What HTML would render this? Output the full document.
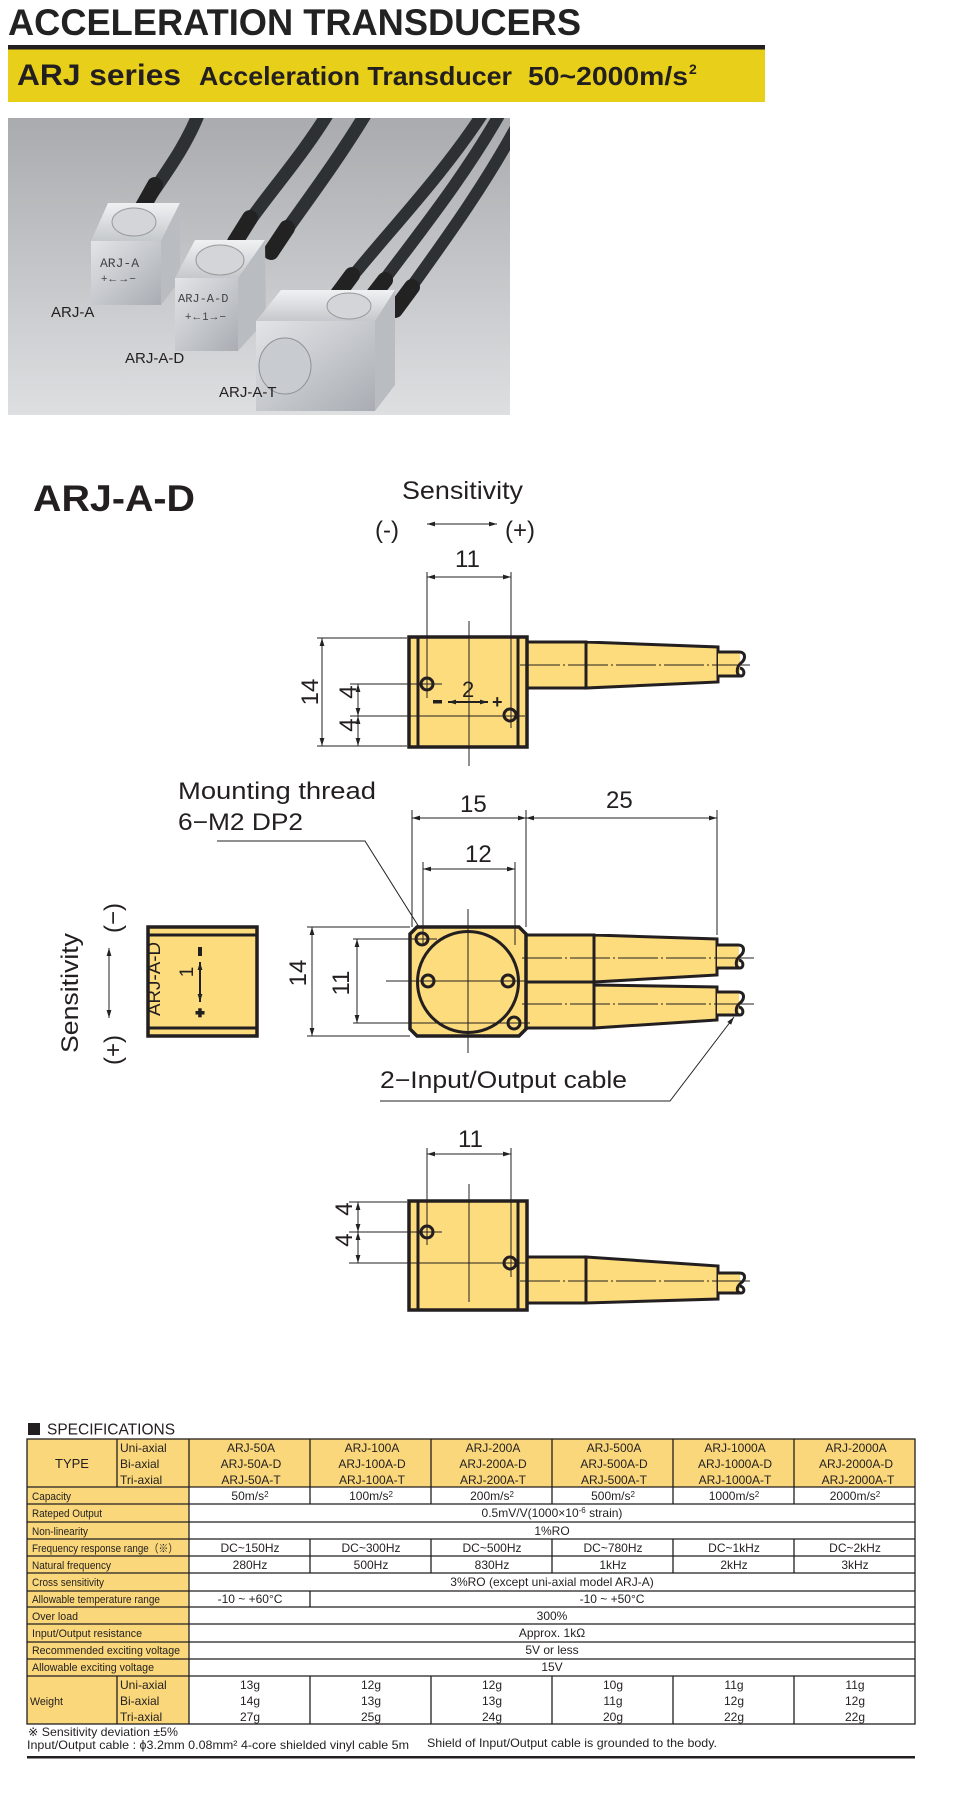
<!DOCTYPE html>
<html><head><meta charset="utf-8"><style>
html,body{margin:0;padding:0;background:#fff;}
svg{display:block;font-family:"Liberation Sans",sans-serif;}
</style></head><body>
<svg width="958" height="1810" viewBox="0 0 958 1810" xmlns="http://www.w3.org/2000/svg">
<defs>
<marker id="a" viewBox="0 0 10 6" refX="10" refY="3" markerWidth="8" markerHeight="4.8" markerUnits="userSpaceOnUse" orient="auto-start-reverse"><path d="M0,0 L10,3 L0,6 z" fill="#222"/></marker>
<linearGradient id="bg" x1="0" y1="0" x2="0" y2="1"><stop offset="0" stop-color="#a9abae"/><stop offset="1" stop-color="#dedfe1"/></linearGradient>
<linearGradient id="met" x1="0" y1="0" x2="1" y2="1"><stop offset="0" stop-color="#e2e4e7"/><stop offset="1" stop-color="#a9adb3"/></linearGradient>
<linearGradient id="met2" x1="0" y1="0" x2="0" y2="1"><stop offset="0" stop-color="#f0f1f3"/><stop offset="1" stop-color="#c5c8cc"/></linearGradient>
<clipPath id="pc"><rect x="8" y="118" width="502" height="297"/></clipPath>
</defs>

<!-- Title -->
<text x="8" y="35" font-size="37" font-weight="bold" fill="#222" textLength="573" lengthAdjust="spacingAndGlyphs">ACCELERATION TRANSDUCERS</text>
<rect x="8" y="45" width="757" height="4.5" fill="#231f20"/>
<rect x="8" y="49.5" width="757" height="52.5" fill="#e8cf1a"/>
<text x="17" y="85" font-size="30" font-weight="bold" fill="#231f20" textLength="164" lengthAdjust="spacingAndGlyphs">ARJ series</text>
<text x="199" y="85" font-size="26" font-weight="bold" fill="#231f20" textLength="313" lengthAdjust="spacingAndGlyphs">Acceleration Transducer</text>
<text x="528" y="85" font-size="26" font-weight="bold" fill="#231f20" textLength="160" lengthAdjust="spacingAndGlyphs">50~2000m/s</text>
<text x="689" y="74" font-size="14" font-weight="bold" fill="#231f20">2</text>

<!-- Photo -->
<g clip-path="url(#pc)">
<rect x="8" y="118" width="502" height="297" fill="url(#bg)"/>
<g stroke="#2e3133" stroke-linecap="round" fill="none">
<path d="M200,110 C185,150 160,180 141,210" stroke-width="13"/>
<path d="M330,110 C300,160 262,200 235,242" stroke-width="13"/>
<path d="M368,110 C335,165 300,210 271,252" stroke-width="13"/>
<path d="M485,110 C440,180 380,240 335,298" stroke-width="12"/>
<path d="M502,110 C460,185 405,250 368,302" stroke-width="12"/>
<path d="M520,120 C480,195 430,260 395,310" stroke-width="12"/>
</g>
<g stroke="#222" stroke-width="16" stroke-linecap="round"><path d="M155,185 L141,210"/><path d="M250,218 L235,242"/><path d="M287,228 L271,252"/><path d="M352,275 L335,298"/><path d="M385,280 L368,302"/><path d="M412,287 L395,310"/></g>
<!-- Cube A -->
<polygon points="91,241 108,203 180,203 161,241" fill="url(#met2)"/>
<polygon points="161,241 180,203 180,280 161,305" fill="#b9bcc0"/>
<rect x="91" y="241" width="70" height="64" fill="url(#met)"/>
<ellipse cx="134" cy="222" rx="22" ry="14" fill="#d3d5d8" stroke="#999" stroke-width="1"/>
<text x="100" y="267" font-size="13" fill="#444" font-family="Liberation Mono,monospace">ARJ-A</text>
<text x="101" y="282" font-size="11" fill="#444">+←→−</text>
<!-- Cube D -->
<polygon points="175,278 195,240 265,240 238,278" fill="url(#met2)"/>
<polygon points="238,278 265,240 266,320 238,351" fill="#b9bcc0"/>
<rect x="175" y="278" width="63" height="73" fill="url(#met)"/>
<ellipse cx="220" cy="260" rx="24" ry="15" fill="#d3d5d8" stroke="#999" stroke-width="1"/>
<text x="178" y="302" font-size="12" fill="#444" font-family="Liberation Mono,monospace">ARJ-A-D</text>
<text x="185" y="320" font-size="11" fill="#444">+←1→−</text>
<!-- Cube T -->
<polygon points="256,321 281,290 395,290 375,321" fill="url(#met2)"/>
<polygon points="375,321 395,290 395,385 375,411" fill="#b9bcc0"/>
<rect x="256" y="321" width="119" height="90" fill="url(#met)"/>
<ellipse cx="349" cy="306" rx="22" ry="13" fill="#d3d5d8" stroke="#999" stroke-width="1"/>
<ellipse cx="285" cy="366" rx="26" ry="28" fill="#c8cbcf" stroke="#8e9296" stroke-width="1"/>
<text x="51" y="317" font-size="15" fill="#231f20">ARJ-A</text>
<text x="125" y="363" font-size="15" fill="#231f20">ARJ-A-D</text>
<text x="219" y="397" font-size="15" fill="#231f20">ARJ-A-T</text>
</g>

<!-- ARJ-A-D heading -->
<text x="33" y="511" font-size="37" font-weight="bold" fill="#231f20" textLength="162" lengthAdjust="spacingAndGlyphs">ARJ-A-D</text>

<!-- Sensitivity top -->
<text x="402" y="499" font-size="25" fill="#231f20" textLength="121" lengthAdjust="spacingAndGlyphs">Sensitivity</text>
<text x="375" y="538" font-size="24" fill="#231f20">(-)</text>
<text x="505" y="538" font-size="24" fill="#231f20">(+)</text>
<line x1="427" y1="524" x2="497" y2="524" stroke="#222" stroke-width="1" marker-start="url(#a)" marker-end="url(#a)"/>

<g fill="#fddc7e" stroke="#231f20">
<path d="M527,642 H586 V688 H527 Z M586,642 L718,647 V682 L586,688 Z" stroke-width="3"/>
<rect x="718" y="652" width="22" height="24" stroke="none"/>
<rect x="409" y="637" width="118" height="110" stroke-width="3.5"/>
<path d="M526,935 H594 V982 H526 Z M594,935 L717,939 V975 L594,982 Z" stroke-width="3"/>
<path d="M526,982 H594 V1028 H526 Z M594,985 L717,987 V1020 L594,1028 Z" stroke-width="3"/>
<rect x="717" y="945" width="22" height="23" stroke="none"/>
<rect x="717" y="992" width="22" height="23" stroke="none"/>
<path d="M417,927 H519 L526,934 V1029 L519,1036 H417 L410,1029 V934 Z" stroke-width="3.5"/>
<rect x="148" y="927" width="109" height="109" stroke-width="3.5"/>
<path d="M527,1257 H586 V1303 H527 Z M586,1257 L718,1266 V1299 L586,1303 Z" stroke-width="3"/>
<rect x="718" y="1273" width="22" height="20" stroke="none"/>
<rect x="409" y="1201" width="118" height="109" stroke-width="3.5"/>
</g>

<g fill="none" stroke="#231f20" stroke-width="3">
<line x1="418" y1="637" x2="418" y2="747"/><line x1="518" y1="637" x2="518" y2="747"/>
<circle cx="427" cy="684" r="6"/><circle cx="510" cy="715" r="6"/>
<path d="M718,652 H739 C746,652 746,659 741,663 C736,667 736,676 741,676 C745,676 745,669 740,668 M718,676 H741"/>
<circle cx="468" cy="982" r="50.5"/>
<circle cx="422" cy="939" r="6"/><circle cx="428" cy="981" r="6"/><circle cx="508" cy="981" r="6"/><circle cx="514" cy="1023" r="6"/>
<path d="M717,945 H738 C745,945 745,952 740,956 C735,960 735,968 740,968 C744,968 744,961 739,960 M717,968 H740"/>
<path d="M717,992 H738 C745,992 745,999 740,1003 C735,1007 735,1015 740,1015 C744,1015 744,1008 739,1007 M717,1015 H740"/>
<line x1="148" y1="935" x2="257" y2="935"/><line x1="148" y1="1028" x2="257" y2="1028"/>
<line x1="418" y1="1201" x2="418" y2="1310"/><line x1="518" y1="1201" x2="518" y2="1310"/>
<circle cx="427" cy="1232" r="6"/><circle cx="510" cy="1263" r="6"/>
<path d="M718,1273 H739 C746,1273 746,1279 741,1283 C736,1287 736,1293 741,1293 C745,1293 745,1287 740,1286 M718,1293 H741"/>
</g>

<g stroke="#231f20" stroke-width="1" fill="none">
<line x1="427" y1="572" x2="427" y2="698"/><line x1="511" y1="572" x2="511" y2="728"/>
<line x1="427" y1="577" x2="511" y2="577" marker-start="url(#a)" marker-end="url(#a)"/>
<line x1="469" y1="621" x2="469" y2="766"/>
<line x1="317" y1="638" x2="407" y2="638"/><line x1="317" y1="746" x2="407" y2="746"/>
<line x1="350" y1="684" x2="442" y2="684"/><line x1="350" y1="716" x2="525" y2="716"/>
<line x1="322" y1="638" x2="322" y2="746" marker-start="url(#a)" marker-end="url(#a)"/>
<line x1="358" y1="684" x2="358" y2="716" marker-start="url(#a)" marker-end="url(#a)"/>
<line x1="358" y1="716" x2="358" y2="746" marker-start="url(#a)" marker-end="url(#a)"/>
<line x1="520" y1="665" x2="750" y2="665" stroke-dasharray="40,3,2,3"/>
<line x1="448" y1="702" x2="488" y2="702" stroke-width="2" marker-start="url(#a)" marker-end="url(#a)"/>
<path d="M217,841 H365 L419,927"/>
<line x1="412" y1="810" x2="412" y2="927"/><line x1="526" y1="810" x2="526" y2="927"/>
<line x1="717" y1="810" x2="717" y2="935"/>
<line x1="412" y1="818" x2="526" y2="818" marker-start="url(#a)" marker-end="url(#a)"/>
<line x1="526" y1="818" x2="717" y2="818" marker-start="url(#a)" marker-end="url(#a)"/>
<line x1="423" y1="862" x2="423" y2="945"/><line x1="515" y1="862" x2="515" y2="945"/>
<line x1="423" y1="869" x2="515" y2="869" marker-start="url(#a)" marker-end="url(#a)"/>
<line x1="468" y1="909" x2="468" y2="1053"/><line x1="386" y1="981" x2="560" y2="981"/>
<line x1="307" y1="927" x2="410" y2="927"/><line x1="307" y1="1036" x2="410" y2="1036"/>
<line x1="353" y1="939" x2="437" y2="939"/><line x1="353" y1="1023" x2="530" y2="1023"/>
<line x1="312" y1="927" x2="312" y2="1036" marker-start="url(#a)" marker-end="url(#a)"/>
<line x1="357" y1="939" x2="357" y2="1023" marker-start="url(#a)" marker-end="url(#a)"/>
<line x1="522" y1="958" x2="755" y2="958" stroke-dasharray="40,3,2,3"/>
<line x1="522" y1="1004" x2="755" y2="1004" stroke-dasharray="40,3,2,3"/>
<path d="M380,1101 H670 L734,1017" marker-end="url(#a)"/>
<line x1="109" y1="948" x2="109" y2="1018" marker-start="url(#a)" marker-end="url(#a)"/>
<line x1="200" y1="962" x2="200" y2="1002" stroke-width="2" marker-start="url(#a)" marker-end="url(#a)"/>
<line x1="427" y1="1148" x2="427" y2="1245"/><line x1="511" y1="1148" x2="511" y2="1277"/>
<line x1="427" y1="1154" x2="511" y2="1154" marker-start="url(#a)" marker-end="url(#a)"/>
<line x1="469" y1="1184" x2="469" y2="1302"/>
<line x1="349" y1="1202" x2="407" y2="1202"/><line x1="349" y1="1232" x2="442" y2="1232"/><line x1="349" y1="1263" x2="525" y2="1263"/>
<line x1="358" y1="1202" x2="358" y2="1232" marker-start="url(#a)" marker-end="url(#a)"/>
<line x1="358" y1="1232" x2="358" y2="1263" marker-start="url(#a)" marker-end="url(#a)"/>
<line x1="520" y1="1281" x2="750" y2="1281" stroke-dasharray="40,3,2,3"/>
</g>

<g fill="#231f20" font-size="24">
<text x="455" y="567">11</text>
<text x="462" y="697" font-size="22">2</text>
<rect x="433" y="700" width="9" height="3.5"/>
<text x="492" y="708" font-size="18" font-weight="bold">+</text>
<text x="308" y="702" transform="rotate(-90 308 692)" text-anchor="middle">14</text>
<text x="355" y="709" transform="rotate(-90 347 700)" text-anchor="middle">4</text>
<text x="355" y="742" transform="rotate(-90 347 733)" text-anchor="middle">4</text>

<text x="178" y="799" textLength="198" lengthAdjust="spacingAndGlyphs">Mounting thread</text>
<text x="178" y="830" textLength="125" lengthAdjust="spacingAndGlyphs">6−M2 DP2</text>
<text x="460" y="812">15</text>
<text x="606" y="808">25</text>
<text x="465" y="862">12</text>
<text x="297" y="982" transform="rotate(-90 297 973)" text-anchor="middle">14</text>
<text x="340" y="992" transform="rotate(-90 340 983)" text-anchor="middle">11</text>
<text x="380" y="1088" textLength="247" lengthAdjust="spacingAndGlyphs">2−Input/Output cable</text>

<text x="69" y="1002" transform="rotate(-90 69 993)" text-anchor="middle" textLength="120" lengthAdjust="spacingAndGlyphs">Sensitivity</text>
<text x="112" y="927" transform="rotate(-90 112 918)" text-anchor="middle">(−)</text>
<text x="112" y="1059" transform="rotate(-90 112 1050)" text-anchor="middle">(+)</text>
<text x="166" y="985" font-size="18" transform="rotate(-90 160 985)" text-anchor="middle" textLength="74" lengthAdjust="spacingAndGlyphs">ARJ-A-D</text>
<text x="193" y="984" font-size="19" transform="rotate(-90 187 978)" text-anchor="middle">1</text>
<rect x="198" y="947" width="4" height="9"/>
<rect x="195.5" y="1011" width="9" height="3.5"/><rect x="198.2" y="1008.3" width="3.5" height="9"/>

<text x="458" y="1147">11</text>
<text x="351" y="1226" transform="rotate(-90 343 1217)" text-anchor="middle">4</text>
<text x="351" y="1257" transform="rotate(-90 343 1248)" text-anchor="middle">4</text>
</g>

<rect x="28" y="1423" width="12" height="12" fill="#231f20"/>
<text x="47" y="1434.5" font-size="15.5" fill="#231f20">SPECIFICATIONS</text>

<g fill="#f9d77a">
<rect x="27" y="1439" width="162" height="285"/>
<rect x="189" y="1439" width="726" height="48"/>
</g>
<g stroke="#231f20" stroke-width="1.3" fill="none">
<rect x="27" y="1439" width="888" height="285"/>
<line x1="27" y1="1487" x2="915" y2="1487"/>
<line x1="27" y1="1504" x2="915" y2="1504"/>
<line x1="27" y1="1522" x2="915" y2="1522"/>
<line x1="27" y1="1539" x2="915" y2="1539"/>
<line x1="27" y1="1556" x2="915" y2="1556"/>
<line x1="27" y1="1573" x2="915" y2="1573"/>
<line x1="27" y1="1591" x2="915" y2="1591"/>
<line x1="27" y1="1607" x2="915" y2="1607"/>
<line x1="27" y1="1624" x2="915" y2="1624"/>
<line x1="27" y1="1642" x2="915" y2="1642"/>
<line x1="27" y1="1659" x2="915" y2="1659"/>
<line x1="27" y1="1676" x2="915" y2="1676"/>
<line x1="189" y1="1439" x2="189" y2="1724"/>
<line x1="117" y1="1439" x2="117" y2="1487"/><line x1="117" y1="1676" x2="117" y2="1724"/>
<path d="M310,1439 V1504 M431,1439 V1504 M552,1439 V1504 M673,1439 V1504 M794,1439 V1504"/>
<path d="M310,1539 V1573 M431,1539 V1573 M552,1539 V1573 M673,1539 V1573 M794,1539 V1573"/>
<path d="M310,1591 V1607"/>
<path d="M310,1676 V1724 M431,1676 V1724 M552,1676 V1724 M673,1676 V1724 M794,1676 V1724"/>
</g>
<g fill="#231f20" font-size="12">
<text x="72" y="1468" text-anchor="middle" font-size="13">TYPE</text>
<text x="120" y="1452">Uni-axial</text><text x="120" y="1468">Bi-axial</text><text x="120" y="1484">Tri-axial</text>
<g text-anchor="middle">
<text x="251" y="1452">ARJ-50A</text><text x="251" y="1468">ARJ-50A-D</text><text x="251" y="1484">ARJ-50A-T</text>
<text x="372" y="1452">ARJ-100A</text><text x="372" y="1468">ARJ-100A-D</text><text x="372" y="1484">ARJ-100A-T</text>
<text x="493" y="1452">ARJ-200A</text><text x="493" y="1468">ARJ-200A-D</text><text x="493" y="1484">ARJ-200A-T</text>
<text x="614" y="1452">ARJ-500A</text><text x="614" y="1468">ARJ-500A-D</text><text x="614" y="1484">ARJ-500A-T</text>
<text x="735" y="1452">ARJ-1000A</text><text x="735" y="1468">ARJ-1000A-D</text><text x="735" y="1484">ARJ-1000A-T</text>
<text x="856" y="1452">ARJ-2000A</text><text x="856" y="1468">ARJ-2000A-D</text><text x="858" y="1484">ARJ-2000A-T</text>
<text x="250" y="1500">50m/s<tspan font-size="8" dy="-3">2</tspan></text>
<text x="371" y="1500">100m/s<tspan font-size="8" dy="-3">2</tspan></text>
<text x="492" y="1500">200m/s<tspan font-size="8" dy="-3">2</tspan></text>
<text x="613" y="1500">500m/s<tspan font-size="8" dy="-3">2</tspan></text>
<text x="734" y="1500">1000m/s<tspan font-size="8" dy="-3">2</tspan></text>
<text x="855" y="1500">2000m/s<tspan font-size="8" dy="-3">2</tspan></text>
<text x="552" y="1517">0.5mV/V(1000×10<tspan font-size="8" dy="-4">-6</tspan><tspan dy="4"> strain)</tspan></text>
<text x="552" y="1535">1%RO</text>
<text x="250" y="1552">DC~150Hz</text><text x="371" y="1552">DC~300Hz</text><text x="492" y="1552">DC~500Hz</text>
<text x="613" y="1552">DC~780Hz</text><text x="734" y="1552">DC~1kHz</text><text x="855" y="1552">DC~2kHz</text>
<text x="250" y="1569">280Hz</text><text x="371" y="1569">500Hz</text><text x="492" y="1569">830Hz</text>
<text x="613" y="1569">1kHz</text><text x="734" y="1569">2kHz</text><text x="855" y="1569">3kHz</text>
<text x="552" y="1586">3%RO (except uni-axial model ARJ-A)</text>
<text x="250" y="1603">-10 ~ +60°C</text>
<text x="612" y="1603">-10 ~ +50°C</text>
<text x="552" y="1620">300%</text>
<text x="552" y="1637">Approx. 1kΩ</text>
<text x="552" y="1654">5V or less</text>
<text x="552" y="1671">15V</text>
<text x="250" y="1689">13g</text><text x="250" y="1705">14g</text><text x="250" y="1721">27g</text>
<text x="371" y="1689">12g</text><text x="371" y="1705">13g</text><text x="371" y="1721">25g</text>
<text x="492" y="1689">12g</text><text x="492" y="1705">13g</text><text x="492" y="1721">24g</text>
<text x="613" y="1689">10g</text><text x="613" y="1705">11g</text><text x="613" y="1721">20g</text>
<text x="734" y="1689">11g</text><text x="734" y="1705">12g</text><text x="734" y="1721">22g</text>
<text x="855" y="1689">11g</text><text x="855" y="1705">12g</text><text x="855" y="1721">22g</text>
</g>
<g font-size="11">
<text x="32" y="1500" textLength="39" lengthAdjust="spacingAndGlyphs">Capacity</text>
<text x="32" y="1517" textLength="70" lengthAdjust="spacingAndGlyphs">Rateped Output</text>
<text x="32" y="1535" textLength="56" lengthAdjust="spacingAndGlyphs">Non-linearity</text>
<text x="32" y="1552" textLength="146" lengthAdjust="spacingAndGlyphs">Frequency response range（※）</text>
<text x="32" y="1569" textLength="79" lengthAdjust="spacingAndGlyphs">Natural frequency</text>
<text x="32" y="1586" textLength="72" lengthAdjust="spacingAndGlyphs">Cross sensitivity</text>
<text x="32" y="1603" textLength="128" lengthAdjust="spacingAndGlyphs">Allowable temperature range</text>
<text x="32" y="1620" textLength="46" lengthAdjust="spacingAndGlyphs">Over load</text>
<text x="32" y="1637" textLength="110" lengthAdjust="spacingAndGlyphs">Input/Output resistance</text>
<text x="32" y="1654" textLength="148" lengthAdjust="spacingAndGlyphs">Recommended exciting voltage</text>
<text x="32" y="1671" textLength="122" lengthAdjust="spacingAndGlyphs">Allowable exciting voltage</text>
<text x="30" y="1705" textLength="33" lengthAdjust="spacingAndGlyphs">Weight</text>
</g>
<text x="120" y="1689">Uni-axial</text><text x="120" y="1705">Bi-axial</text><text x="120" y="1721">Tri-axial</text>
</g>
<g fill="#231f20" font-size="12">
<text x="28" y="1736" textLength="150" lengthAdjust="spacingAndGlyphs">※ Sensitivity deviation ±5%</text>
<text x="27" y="1749" textLength="382" lengthAdjust="spacingAndGlyphs">Input/Output cable : ϕ3.2mm  0.08mm²  4-core shielded vinyl cable 5m</text>
<text x="427" y="1747" textLength="290" lengthAdjust="spacingAndGlyphs">Shield of Input/Output cable is grounded to the body.</text>
</g>
<rect x="27" y="1756" width="888" height="2.5" fill="#231f20"/>
</svg>
</body></html>
